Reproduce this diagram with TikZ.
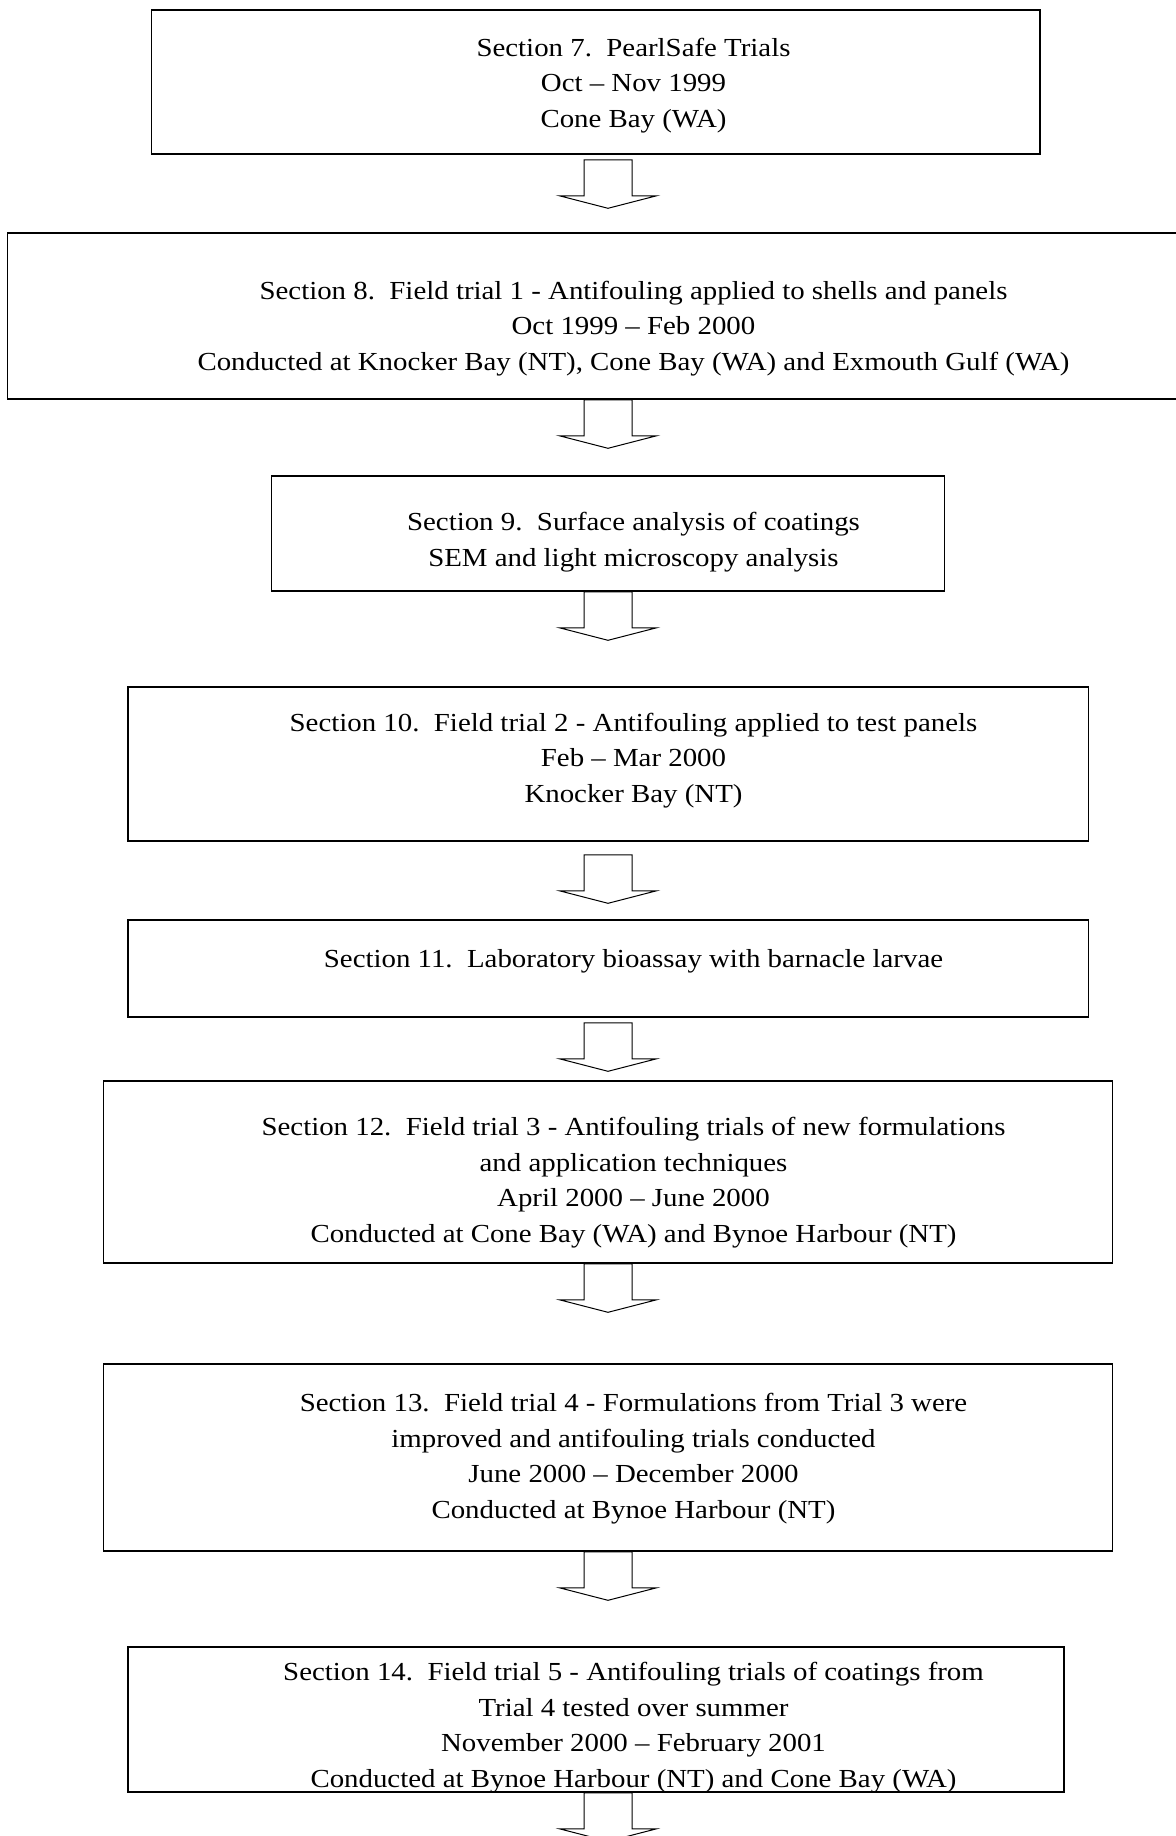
\documentclass[tikz,border=0pt]{standalone}
\usepackage{fontspec}
\setmainfont{Liberation Serif}[FakeStretch=1.11]
\usepackage{tikz}
\usetikzlibrary{positioning,fit,calc}

\tikzset{
  box/.style={draw, line width=0.8pt, inner sep=0pt},
  txt/.style={align=center, inner sep=0pt, anchor=base, font=\fontsize{13}{17.75}\selectfont},
  downarrow/.pic={
    \draw[line width=0.5pt] (-24,0) -- ++(0,36) -- ++(-24.5,0) -- ++(48.5,12.5)
      -- ++(48.5,-12.5) -- ++(-24.5,0) -- ++(0,-36) -- cycle;
  }
}

\begin{document}
\frenchspacing
\begin{tikzpicture}[x=0.5pt, y=-0.5pt]
            \useasboundingbox (0,0) rectangle (1176,1836);
            % boxes
            \node[box, fit={(151.5,10) (1040,154)}] (b1) {};
            \node[box, fit={(7.5,233) (1190,399)}] (b2) {};
            \node[box, fit={(271.5,476) (944.5,591)}] (b3) {};
            \node[box, fit={(127.7,687) (1088.5,841)}] (b4) {};
            \node[box, fit={(127.7,920) (1088.5,1017)}] (b5) {};
            \node[box, fit={(103.3,1081) (1112.3,1263)}] (b6) {};
            \node[box, fit={(103.3,1364) (1112.3,1551)}] (b7) {};
            \node[box, fit={(127.7,1647) (1064,1792)}] (b8) {};
            % texts (placed at the baseline of the last line)
            \node[txt] (t1) at (633.5,127) {Section 7.\ \ PearlSafe Trials\\Oct – Nov 1999\\Cone Bay (WA)};
            \node[txt] (t2) at (633.5,370) {Section 8.\ \ Field trial 1 - Antifouling applied to shells and panels\\Oct 1999 – Feb 2000\\Conducted at Knocker Bay (NT), Cone Bay (WA) and Exmouth Gulf (WA)};
            \node[txt] (t3) at (633.5,566) {Section 9.\ \ Surface analysis of coatings\\SEM and light microscopy analysis};
            \node[txt] (t4) at (633.5,802) {Section 10.\ \ Field trial 2 - Antifouling applied to test panels\\Feb – Mar 2000\\Knocker Bay (NT)};
            \node[txt] (t5) at (633.5,967) {Section 11.\ \ Laboratory bioassay with barnacle larvae};
            \node[txt] (t6) at (633.5,1242) {Section 12.\ \ Field trial 3 - Antifouling trials of new formulations\\and application techniques\\April 2000 – June 2000\\Conducted at Cone Bay (WA) and Bynoe Harbour (NT)};
            \node[txt] (t7) at (633.5,1518) {Section 13.\ \ Field trial 4 - Formulations from Trial 3 were\\improved and antifouling trials conducted\\June 2000 – December 2000\\Conducted at Bynoe Harbour (NT)};
            \node[txt] (t8) at (633.5,1787) {Section 14.\ \ Field trial 5 - Antifouling trials of coatings from\\Trial 4 tested over summer\\November 2000 – February 2001\\Conducted at Bynoe Harbour (NT) and Cone Bay (WA)};
            % arrows
            \coordinate (mid) at (608,0);
            \pic at ($(mid |- b1.south)+(0,5)$) {downarrow};
            \pic at (mid |- b2.south) {downarrow};
            \pic at (mid |- b3.south) {downarrow};
            \pic at ($(mid |- b4.south)+(0,13)$) {downarrow};
            \pic at ($(mid |- b5.south)+(0,5)$) {downarrow};
            \pic at (mid |- b6.south) {downarrow};
            \pic at (mid |- b7.south) {downarrow};
            \pic at (mid |- b8.south) {downarrow};
        \end{tikzpicture}
\end{document}
